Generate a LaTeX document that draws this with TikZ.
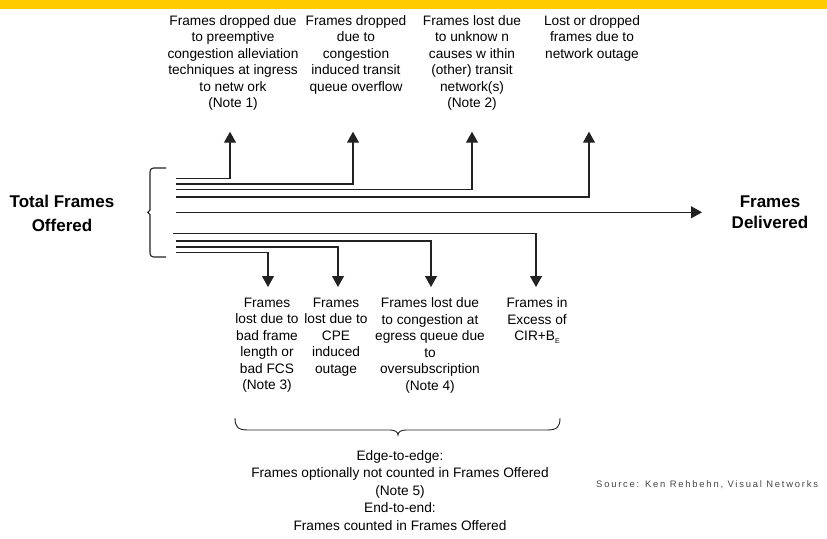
\documentclass[tikz,border=0pt]{standalone}
\usepackage{fontspec}
\setmainfont{Liberation Sans}
\newfontfamily\srcfont[LetterSpace=19]{Liberation Sans}
\usepackage{tikz}
\usetikzlibrary{arrows.meta,positioning}
\definecolor{bargold}{HTML}{FFCC00}
\definecolor{wire}{HTML}{222222}
\definecolor{srcgray}{HTML}{444444}
\newcommand{\Lbl}{\fontsize{13.7}{16.5}\selectfont}
\newcommand{\Note}{\fontsize{13.7}{17.6}\selectfont}
\newcommand{\Head}{\fontsize{17}{24}\selectfont\bfseries}
\newcommand{\HeadR}{\fontsize{17}{20.6}\selectfont\bfseries}
\newcommand{\Src}{\fontsize{9.4}{11}\srcfont}

\begin{document}
\begin{tikzpicture}[x=1pt,y=-1pt,
    flow/.style={draw=wire, line width=1.1pt, -{Triangle[width=12pt,length=11pt]}},
    wire/.style={draw=wire, line width=1.1pt},
    lbl/.style={font=\Lbl, align=center, inner sep=0pt, anchor=north}]
  \useasboundingbox (0,0) rectangle (827,538);
  \fill[bargold] (0,0) rectangle (827,9);

  \node[font=\Head, align=center, inner sep=0pt, anchor=north] (offered) at (62,194.5) {Total Frames\\Offered};
  \node[font=\HeadR, align=center, inner sep=0pt, anchor=north] (delivered) at (770,196) {Frames\\Delivered};

  \draw[wire] (166,168) -- (153.5,168) to[out=180,in=90] (150,171.5) -- (150,210) -- (147.8,212.3)
    -- (150,214.6) -- (150,253.5) to[out=-90,in=180] (153.5,257) -- (166,257);

  \node[lbl] (up1) at (233,15) {Frames dropped due\\to preemptive\\congestion alleviation\\techniques at ingress\\to netw ork\\(Note 1)};
  \node[lbl] (up2) at (356,15) {Frames dropped\\due to\\congestion\\induced transit\\queue overflow};
  \node[lbl] (up3) at (472,15) {Frames lost due\\to unknow n\\causes w ithin\\(other) transit\\network(s)\\(Note 2)};
  \node[lbl] (up4) at (592,15) {Lost or dropped\\frames due to\\network outage};

  \foreach \i/\y/\x in {1/178.3/230, 2/184/353, 3/189.3/472, 4/197/589}{
    \coordinate (us\i) at (176,\y);
    \coordinate (ut\i) at (\x,131.7);
    \draw[flow] (us\i) -| (ut\i);
  }

  \coordinate (ms) at (176,212.3);
  \coordinate (mt) at (702,212.3);
  \draw[flow] (ms) -- (mt);

  \foreach \i/\y/\x/\s in {1/252.5/268/176, 2/247/338/176, 3/241/431/176, 4/233.3/536/173}{
    \coordinate (ds\i) at (\s,\y);
    \coordinate (dt\i) at (\x,287);
    \draw[flow] (ds\i) -| (dt\i);
  }

  \node[lbl] (dn1) at (267,297.5) {Frames\\lost due to\\bad frame\\length or\\bad FCS\\(Note 3)};
  \node[lbl] (dn2) at (336,297.5) {Frames\\lost due to\\CPE\\induced\\outage};
  \node[lbl] (dn3) at (430,297.5) {Frames lost due\\to congestion at\\egress queue due\\to\\oversubscription\\(Note 4)};
  \node[lbl] (dn4) at (537,297.5) {Frames in\\Excess of\\CIR+B\raisebox{-3pt}{\fontsize{7}{8}\selectfont E}};

  \draw[wire, line width=0.9pt] (235,418) .. controls (235,427) and (238,430) .. (248,430) -- (390,430)
    .. controls (395,430) and (398,432) .. (398,435) .. controls (398,432) and (401,430) .. (406,430)
    -- (547,430) .. controls (557,430) and (560,427) .. (560,418);

  \node[font=\Note, align=center, inner sep=0pt, anchor=north] (scope) at (400,450)
    {Edge-to-edge:\\Frames optionally not counted in Frames Offered\\(Note 5)\\End-to-end:\\Frames counted in Frames Offered};

  \node[font=\Src, text=srcgray, inner sep=0pt, anchor=west] (source) at (596,485) {Source: Ken Rehbehn, Visual Networks};
\end{tikzpicture}
\end{document}
